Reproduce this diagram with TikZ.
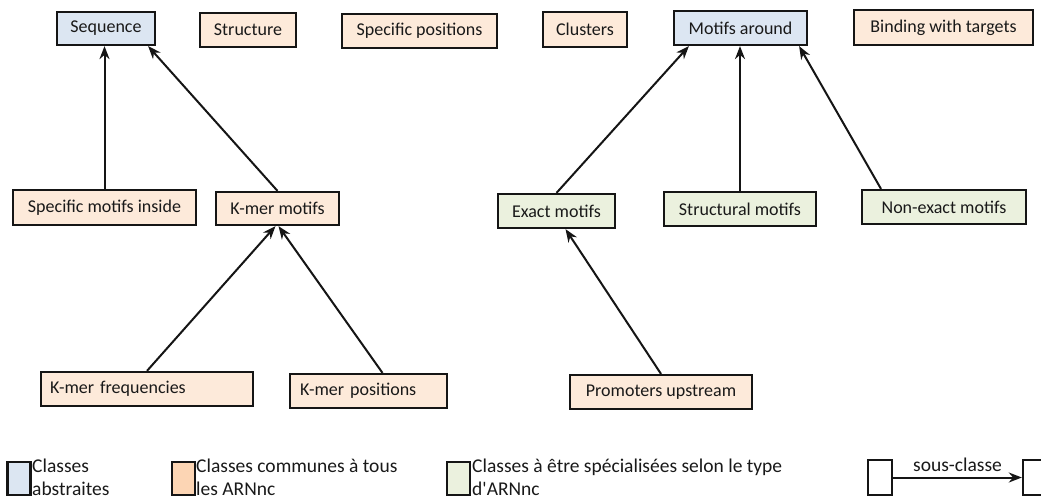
\documentclass[tikz,border=0pt]{standalone}
\usepackage{fontspec}
\setmainfont{Carlito}
\usetikzlibrary{arrows.meta}
\definecolor{absfill}{HTML}{DCE6F2}
\definecolor{comfill}{HTML}{FDEADA}
\definecolor{comkey}{HTML}{FCD5B4}
\definecolor{spefill}{HTML}{EBF1DE}
\definecolor{ink}{HTML}{151515}
\begin{document}
\begin{tikzpicture}[x=1pt,y=-1pt,
  cls/.style={draw=ink, line width=2.2pt, inner sep=0pt,
    font=\fontsize{18}{22}\selectfont, text=black!90},
  abstract/.style={cls, fill=absfill},
  common/.style={cls, fill=comfill},
  special/.style={cls, fill=spefill},
  isa/.style={draw=ink, line width=2pt, -{Stealth[length=13pt,width=10pt]}},
  keybox/.style={draw=ink, line width=2.4pt, inner sep=0pt, minimum width=23pt, minimum height=33pt},
  keytext/.style={anchor=base west, inner sep=0pt, font=\fontsize{19.5}{23}\selectfont, text=black!90}]
\useasboundingbox (0,0) rectangle (1041,499);

% top row
\node[abstract, minimum width=98pt,  minimum height=33pt] (seq)      at (106,28.5)   {Sequence};
\node[common,   minimum width=96pt,  minimum height=34pt] (struct)   at (248,30)     {Structure};
\node[common,   minimum width=155pt, minimum height=34pt] (specpos)  at (419.5,31)   {Specific positions};
\node[common,   minimum width=84pt,  minimum height=35pt] (clusters) at (585,29.5)   {Clusters};
\node[abstract, minimum width=133pt, minimum height=34pt] (motifs)   at (740.5,28)   {Motifs around};
\node[common,   minimum width=179pt, minimum height=35pt] (binding)  at (943.5,27.5) {Binding with targets};

% middle row
\node[common,  minimum width=183pt, minimum height=35pt] (smi)      at (104.5,207.5) {Specific motifs inside};
\node[common,  minimum width=123pt, minimum height=33pt] (kmer)     at (277.5,208.5) {K-mer motifs};
\node[special, minimum width=117pt, minimum height=34pt] (exact)    at (556.5,211)   {Exact motifs};
\node[special, minimum width=152pt, minimum height=34pt] (structm)  at (740,209)     {Structural motifs};
\node[special, minimum width=164pt, minimum height=34pt] (nonexact) at (944,207)     {Non-exact motifs};

% bottom row
\node[common, minimum width=212pt, minimum height=34pt, text width=194pt, align=left] (kfreq) at (147,389)   {K-mer frequencies};
\node[common, minimum width=157pt, minimum height=34pt, text width=137pt, align=left] (kpos)  at (368.5,391) {K-mer positions};
\node[common, minimum width=182pt, minimum height=34pt] (prom) at (661,392) {Promoters upstream};

% subclass links
\draw[isa] (smi.north) -- (smi.north |- seq.south);
\draw[isa] (kmer.north) -- ([xshift=-8pt]seq.south east);
\draw[isa] (kfreq.north) -- ([xshift=-2pt]kmer.south);
\draw[isa] ([xshift=14pt]kpos.north) -- ([xshift=1pt]kmer.south);
\draw[isa] (exact.north) -- ([xshift=16pt]motifs.south west);
\draw[isa] (structm.north) -- (structm.north |- motifs.south);
\draw[isa] ([xshift=-63pt]nonexact.north) -- ([xshift=-9pt]motifs.south east);
\draw[isa] (prom.north) -- ([xshift=9pt]exact.south);

% legend
\node[keybox, fill=absfill] (kabs) at (19,478.5) {};
\node[keytext] (tabs1) at (32,472) {Classes};
\node[keytext] (tabs2) at (32,495) {abstraites};
\node[keybox, fill=comkey] (kcom) at (183.5,478.5) {};
\node[keytext] (tcom1) at (196,472) {Classes communes à tous};
\node[keytext] (tcom2) at (196,495) {les ARNnc};
\node[keybox, fill=spefill] (kspe) at (458.5,478.5) {};
\node[keytext] (tspe1) at (472,472) {Classes à être spécialisées selon le type};
\node[keytext] (tspe2) at (472,495) {d\textquotesingle ARNnc};
\node[keybox, fill=white, minimum height=35pt, minimum width=24pt] (ksub) at (880,477.5) {};
\node[keybox, fill=white, minimum height=35pt, minimum width=24pt] (ksup) at (1035,477.5) {};
\draw[isa] (ksub.east) -- node[keytext, anchor=base, pos=0.5, yshift=6pt] (tsub) {sous-classe} (ksup.west);
\end{tikzpicture}
\end{document}
